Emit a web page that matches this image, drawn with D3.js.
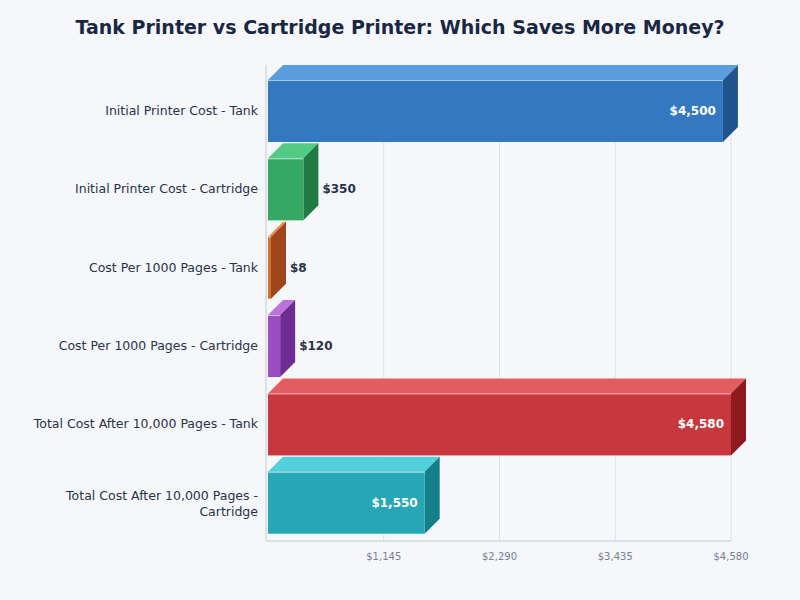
<!DOCTYPE html>
<html><head><meta charset="utf-8">
<script src="https://cdn.jsdelivr.net/npm/d3@7"></script>
<style>body{margin:0;background:#f5f7fb;font-family:"DejaVu Sans",sans-serif}</style>
</head><body><svg id="c" width="800" height="600"></svg>
<script>
var categories = ["Initial Printer Cost - Tank", "Initial Printer Cost - Cartridge", "Cost Per 1000 Pages - Tank",
  "Cost Per 1000 Pages - Cartridge", "Total Cost After 10,000 Pages - Tank", "Total Cost After 10,000 Pages - Cartridge"];
var values = [4500, 350, 8, 120, 4580, 1550];
var colors = ["#3478c2", "#34a864", "#d2702e", "#9a4fbf", "#c7383e", "#27a6b5"];
var tops = ["#5a9ee0", "#52cc84", "#ee9450", "#bb72dc", "#e25c60", "#52d0dc"];
var sides = ["#20548e", "#1f7a44", "#a0461c", "#6f2c92", "#901a20", "#137f88"];
var tickValues = [1145, 2290, 3435, 4580];

var svg = d3.select("#c");
var m = {l: 268, r: 731, t: 65, b: 541};
var depth = 15;
var x = d3.scaleLinear().domain([0, 4580]).range([m.l, m.r]);
var y = d3.scaleBand().domain(categories).range([m.t + 15, 522 + 14]).paddingInner(0.18).paddingOuter(0);

svg.append("text").attr("x", 400).attr("y", 34).attr("text-anchor", "middle")
  .attr("font-size", 19).attr("font-weight", "bold").attr("fill", "#1a2744")
  .text("Tank Printer vs Cartridge Printer: Which Saves More Money?");

svg.append("g").selectAll("line").data(tickValues).enter().append("line")
  .attr("x1", d => x(d)).attr("x2", d => x(d)).attr("y1", m.t).attr("y2", m.b)
  .attr("stroke", "#dde1e8");
svg.append("line").attr("x1", m.l - 2).attr("x2", m.l - 2).attr("y1", m.t).attr("y2", m.b).attr("stroke", "#c4c8d0");
svg.append("line").attr("x1", m.l - 2).attr("x2", m.r).attr("y1", m.b).attr("y2", m.b).attr("stroke", "#c4c8d0");
svg.append("g").selectAll("text").data(tickValues).enter().append("text")
  .attr("x", d => x(d)).attr("y", 560).attr("text-anchor", "middle").attr("font-size", 10).attr("fill", "#7a8090")
  .text(d => "$" + d3.format(",")(d));

var bh = 62;
var g = svg.append("g");
categories.forEach(function (c, i) {
  var y0 = y(c), w = Math.max(3, x(values[i]) - x(0)), x0 = x(0), x1 = x0 + w;
  g.append("path").attr("d", `M${x0},${y0}L${x0 + depth},${y0 - depth}L${x1 + depth},${y0 - depth}L${x1},${y0}Z`).attr("fill", tops[i]);
  g.append("path").attr("d", `M${x1},${y0}L${x1 + depth},${y0 - depth}L${x1 + depth},${y0 + bh - depth}L${x1},${y0 + bh}Z`).attr("fill", sides[i]);
  g.append("rect").attr("x", x0).attr("y", y0).attr("width", w).attr("height", bh).attr("fill", colors[i]);
  g.append("line").attr("x1", x0).attr("x2", x1).attr("y1", y0 + 0.5).attr("y2", y0 + 0.5).attr("stroke", "rgba(255,255,255,0.6)");
  var inside = w > 100;
  g.append("text").attr("x", inside ? x1 - 7 : x1 + depth + 4).attr("y", y0 + bh / 2 + 4)
    .attr("text-anchor", inside ? "end" : "start").attr("font-size", 12).attr("font-weight", "bold")
    .attr("fill", inside ? "#fff" : "#2a3248").text("$" + d3.format(",")(values[i]));
  var lab = g.append("text").attr("x", 258).attr("text-anchor", "end").attr("font-size", 12.5).attr("fill", "#2a3248");
  if (c.length > 36) {
    lab.append("tspan").attr("x", 258).attr("y", y0 + bh / 2 - 3).text("Total Cost After 10,000 Pages -");
    lab.append("tspan").attr("x", 258).attr("y", y0 + bh / 2 + 13).text("Cartridge");
  } else {
    lab.attr("y", y0 + bh / 2 + 4).text(c);
  }
});
</script></body></html>
